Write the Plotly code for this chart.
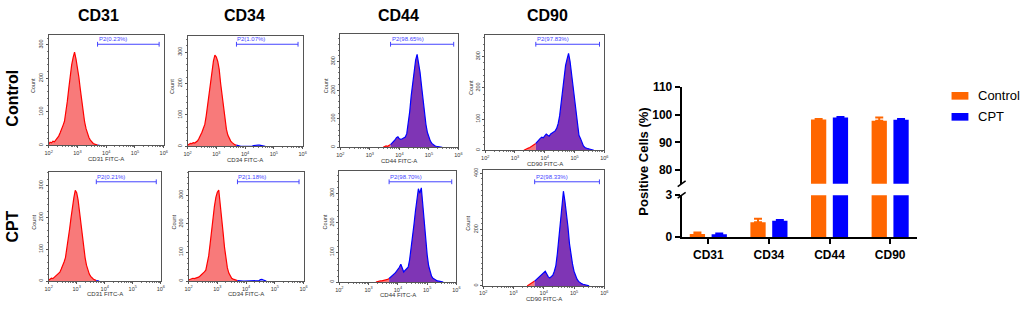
import math
import plotly.graph_objects as go

W, H = 1024, 312
STEP = 0.05
GATE_LO, GATE_HI = 3.70, 5.84
FONT = "Liberation Sans, Arial, sans-serif"

markers = ["CD31", "CD34", "CD44", "CD90"]
groups = ["Control", "CPT"]

# ---- flow-cytometry histograms: counts per log10 bin (bin width 0.05) ----
cd31_ctrl_start = 2.00
cd31_ctrl_counts = [4, 10, 8, 13, 11, 16, 20, 28, 38, 47, 60, 72, 98, 132, 170, 212, 240, 262, 278, 258,
                    236, 204, 168, 132, 98, 70, 50, 36, 24, 16, 10, 6, 4, 2, 1, 1, 0]
cd34_ctrl_start = 2.00
cd34_ctrl_counts = [4, 8, 10, 9, 12, 11, 14, 18, 26, 34, 45, 58, 70, 98, 132, 170, 212, 245, 272, 290,
                    284, 270, 245, 200, 160, 118, 82, 55, 36, 25, 17, 12, 8, 5, 4, 2, 1, 0, 0, 0,
                    0, 0, 0, 0, 0, 1, 3, 4, 5, 4, 4, 3, 2, 1, 0]
cd44_ctrl_start = 3.45
cd44_ctrl_counts = [0, 3, 5, 4, 8, 10, 15, 22, 26, 34, 37, 30, 28, 30, 33, 36, 48, 80, 125, 180,
                    230, 275, 305, 325, 295, 262, 215, 165, 120, 80, 52, 35, 22, 14, 9, 6, 4, 3, 2, 1, 0]
cd90_ctrl_start = 3.30
cd90_ctrl_counts = [0, 3, 5, 7, 9, 12, 15, 18, 22, 28, 34, 38, 42, 40, 46, 52, 48, 45, 52, 56,
                    58, 62, 70, 85, 110, 148, 195, 240, 272, 292, 310, 285, 245, 195, 148, 110, 68, 48, 38, 24,
                    14, 9, 6, 5, 4, 3, 1, 0]
cd31_cpt_start = 2.00
cd31_cpt_counts = [3, 6, 9, 8, 12, 14, 18, 21, 28, 38, 48, 60, 74, 100, 128, 165, 200, 238, 262, 285,
                   278, 255, 215, 176, 138, 102, 74, 50, 34, 22, 15, 10, 6, 4, 2, 1, 0]
cd34_cpt_start = 2.00
cd34_cpt_counts = [4, 7, 8, 10, 9, 10, 12, 14, 18, 22, 28, 32, 38, 60, 88, 130, 178, 220, 262, 292,
                   310, 318, 275, 230, 170, 118, 78, 46, 28, 16, 10, 7, 5, 3, 2, 1, 0, 0, 0, 0,
                   0, 0, 0, 0, 0, 0, 0, 0, 0, 2, 5, 6, 4, 1, 0]
cd44_cpt_start = 3.25
cd44_cpt_counts = [0, 2, 3, 4, 4, 5, 6, 7, 9, 12, 16, 20, 25, 30, 36, 42, 50, 60, 45, 34,
                   40, 44, 50, 75, 110, 150, 195, 240, 285, 315, 300, 318, 262, 200, 140, 92, 55, 32, 20, 13,
                   9, 7, 4, 3, 2, 1, 0]
cd90_cpt_start = 3.45
cd90_cpt_counts = [0, 3, 6, 8, 12, 17, 22, 27, 32, 38, 44, 48, 52, 42, 32, 28, 32, 38, 52, 72,
                   115, 170, 225, 290, 336, 300, 262, 210, 150, 110, 78, 52, 34, 24, 16, 11, 8, 6, 4, 2, 1, 0]

gate_pct_ctrl = ["0.23", "1.07", "98.65", "97.83"]
gate_pct_cpt = ["0.21", "1.18", "98.70", "98.33"]

hist_ymax_ctrl = [330, 352, 397, 370]
hist_ymax_cpt = [342, 380, 374, 410]
hist_yticks_ctrl = [[0, 100, 200, 300]] * 4
hist_yticks_cpt = [[0, 100, 200, 300], [0, 100, 200, 300], [0, 100, 200, 300], [0, 200, 400]]
x_exponents = [2, 3, 4, 5, 6]
x_ticktext = ["10<sup>%d</sup>" % e for e in x_exponents]

# ---- summary bar chart ----
bar_ctrl = [0.23, 1.07, 98.3, 97.8]
bar_ctrl_err = [0.10, 0.25, 0.2, 1.2]
bar_cpt = [0.21, 1.18, 99.0, 98.2]
bar_cpt_err = [0.06, 0.05, 0.2, 0.3]

C_ORANGE = "#FF6600"
C_BLUE = "#0000FF"
C_PINK = "#F87A7A"
C_PURPLE = "#7F35B5"


def px(x):
    return x / W


def py(y):
    return 1 - y / H


hist_rows = [
    [(cd31_ctrl_start, cd31_ctrl_counts), (cd34_ctrl_start, cd34_ctrl_counts),
     (cd44_ctrl_start, cd44_ctrl_counts), (cd90_ctrl_start, cd90_ctrl_counts)],
    [(cd31_cpt_start, cd31_cpt_counts), (cd34_cpt_start, cd34_cpt_counts),
     (cd44_cpt_start, cd44_cpt_counts), (cd90_cpt_start, cd90_cpt_counts)],
]
# panel boxes in pixels: left, right, top, bottom
boxes = [
    [(45, 161, 29, 145), (185, 301, 30, 146), (339, 458, 28, 147), (485, 605, 29, 150)],
    [(45, 158, 173, 287), (186, 302, 173, 287), (338, 456, 172, 288), (483, 605, 171, 292)],
]
gate_y_px = [39, 183]

minor_x = [e + math.log10(k) for e in range(2, 6) for k in range(2, 10)]

fig = go.Figure()
layout = dict(
    width=W, height=H, margin=dict(l=0, r=0, t=0, b=0),
    paper_bgcolor="white", plot_bgcolor="white", showlegend=False,
    font=dict(family=FONT, color="black"),
    barmode="group", bargap=0.28, bargroupgap=0.3,
)
annotations = []
shapes = []


def ann(text, x, y, size, xanchor="center", yanchor="middle", angle=0, color="black", xref="paper"):
    annotations.append(dict(text=text, xref=xref, yref="paper", x=x, y=y, xanchor=xanchor,
                            yanchor=yanchor, textangle=angle, showarrow=False, borderpad=0,
                            font=dict(size=size, color=color)))


k = 0
for r in range(2):
    for c in range(4):
        k += 1
        start, counts = hist_rows[r][c]
        xs = [round(start + STEP * i, 3) for i in range(len(counts))]
        lo_x = [x for x in xs if x <= GATE_LO + 1e-9]
        lo_y = [counts[i] for i, x in enumerate(xs) if x <= GATE_LO + 1e-9]
        hi_x = [x for x in xs if x >= GATE_LO - 1e-9]
        hi_y = [counts[i] for i, x in enumerate(xs) if x >= GATE_LO - 1e-9]
        purple = c >= 2
        fig.add_trace(go.Scatter(x=lo_x, y=lo_y, mode="lines", fill="tozeroy",
                                 line=dict(color="#FF0000", width=1.2),
                                 fillcolor=C_PINK, xaxis="x%d" % k, yaxis="y%d" % k,
                                 hoverinfo="skip"))
        if hi_x:
            fig.add_trace(go.Scatter(x=hi_x, y=hi_y, mode="lines", fill="tozeroy",
                                     line=dict(color=C_BLUE, width=1.2),
                                     fillcolor=C_PURPLE if purple else "rgba(0,0,255,0.3)",
                                     xaxis="x%d" % k, yaxis="y%d" % k, hoverinfo="skip"))
        l, rr, t, b = boxes[r][c]
        ymax = (hist_ymax_ctrl if r == 0 else hist_ymax_cpt)[c]
        yt = (hist_yticks_ctrl if r == 0 else hist_yticks_cpt)[c]
        layout["xaxis%d" % k] = dict(
            domain=[px(l), px(rr)], range=[2, 6], anchor="y%d" % k,
            tickvals=x_exponents, ticktext=x_ticktext, tickfont=dict(size=5.5, color="#333"),
            ticks="outside", ticklen=2, tickcolor="#555", showline=True, mirror=True,
            linecolor="#555", linewidth=1, showgrid=False, zeroline=False,
            minor=dict(tickvals=minor_x, ticks="outside", ticklen=1, tickcolor="#777"),
        )
        layout["yaxis%d" % k] = dict(
            domain=[py(b), py(t)], range=[0, ymax], anchor="x%d" % k,
            tickvals=yt, tickangle=-90, tickfont=dict(size=5.5, color="#333"),
            ticks="outside", ticklen=2, tickcolor="#555", showline=True, mirror=True,
            linecolor="#555", linewidth=1, showgrid=False, zeroline=False,
            minor=dict(dtick=20, ticks="outside", ticklen=1, tickcolor="#777"),
        )
        # gate
        gy = py(gate_y_px[r])
        shapes.append(dict(type="line", xref="x%d" % k, yref="paper", x0=GATE_LO, x1=GATE_HI,
                           y0=gy, y1=gy, line=dict(color="#4444FF", width=1)))
        for gx in (GATE_LO, GATE_HI):
            shapes.append(dict(type="line", xref="x%d" % k, yref="paper", x0=gx, x1=gx,
                               y0=gy - 2.5 / H, y1=gy + 2.5 / H, line=dict(color="#4444FF", width=1)))
        pct = (gate_pct_ctrl if r == 0 else gate_pct_cpt)[c]
        ann("P2(%s%%)" % pct, GATE_LO, py(gate_y_px[r] - 1), 6, xanchor="left", yanchor="bottom",
            color="#4444FF", xref="x%d" % k)
        # axis titles
        ann("%s FITC-A" % markers[c], px((l + rr) / 2), py(b + 14), 6, color="#333")
        ann("Count", px(l - 15), py((t + b) / 2 - 5), 5.5, angle=-90, color="#333")

# column and row headers
col_cx = [95, 242, 398, 548]
for c in range(4):
    ann("<b>%s</b>" % markers[c], px(col_cx[c]), py(9), 16)
ann("<b>Control</b>", px(9), py(95), 16, angle=-90)
ann("<b>CPT</b>", px(9), py(230), 16, angle=-90)

# ---- bar chart with broken axis ----
for yax in ("y9", "y10"):
    fig.add_trace(go.Bar(x=markers, y=bar_ctrl, name=groups[0], marker_color=C_ORANGE,
                         marker_line_width=0, xaxis="x9", yaxis=yax,
                         error_y=dict(type="data", array=bar_ctrl_err, arrayminus=[0] * 4,
                                      symmetric=False, color=C_ORANGE, thickness=2, width=4)))
    fig.add_trace(go.Bar(x=markers, y=bar_cpt, name=groups[1], marker_color=C_BLUE,
                         marker_line_width=0, xaxis="x9", yaxis=yax,
                         error_y=dict(type="data", array=bar_cpt_err, arrayminus=[0] * 4,
                                      symmetric=False, color=C_BLUE, thickness=2, width=4)))

bold12 = dict(size=12, weight="bold", color="black")
layout["xaxis9"] = dict(domain=[px(683), px(920)], range=[-0.44, 3.44], anchor="y9",
                        type="category", showline=True, linewidth=2, linecolor="black",
                        ticks="outside", ticklen=5, tickwidth=2, tickcolor="black",
                        tickfont=bold12, showgrid=False, zeroline=False)
layout["yaxis9"] = dict(domain=[py(241), py(197)], range=[0, 3], anchor="x9",
                        tickvals=[0, 3], showline=True, linewidth=2, linecolor="black",
                        ticks="outside", ticklen=5, tickwidth=2, tickcolor="black",
                        tickfont=bold12, showgrid=False, zeroline=False)
layout["yaxis10"] = dict(domain=[py(185), py(84)], range=[75, 110], anchor="x9",
                         tickvals=[80, 90, 100, 110], showline=True, linewidth=2, linecolor="black",
                         ticks="outside", ticklen=5, tickwidth=2, tickcolor="black",
                         tickfont=bold12, showgrid=False, zeroline=False)

# axis break marks
for yb in (185, 197):
    shapes.append(dict(type="line", xref="paper", yref="paper",
                       x0=px(679), y0=py(yb + 3), x1=px(687), y1=py(yb - 3),
                       line=dict(color="black", width=1.5)))

ann("<b>Positive Cells (%)</b>", px(645), py(162), 13, angle=-90)

# legend
for i, (name, col) in enumerate(zip(groups, [C_ORANGE, C_BLUE])):
    yc = 93 + 22 * i
    shapes.append(dict(type="rect", xref="paper", yref="paper", x0=px(955), x1=px(972),
                       y0=py(yc + 4), y1=py(yc - 4), fillcolor=col, line=dict(width=0)))
    ann(name, px(981), py(yc), 13, xanchor="left")

layout["annotations"] = annotations
layout["shapes"] = shapes
fig.update_layout(**layout)
fig.write_html("out.html", config={"displayModeBar": False},
               post_script="document.body.style.margin='0';document.body.style.overflow='hidden';")
